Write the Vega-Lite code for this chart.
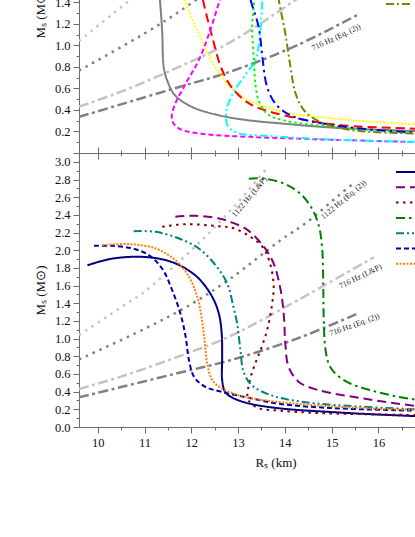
{
"$schema":"https://vega.github.io/schema/vega-lite/v6.json",
"autosize":{"type":"pad"},
"padding":{"left":34,"top":-133,"right":0,"bottom":0},
"background":"white",
"bounds":"flush",
"spacing":0,
"config":{
 "view":{"stroke":null},
 "font":"Liberation Serif",
 "axis":{"labelFont":"Liberation Serif","titleFont":"Liberation Serif","labelFontSize":12.5,"titleFontSize":13,"titleFontWeight":"normal","labelColor":"#111","titleColor":"#111","domainColor":"#6b6b6b","tickColor":"#6b6b6b","labelPadding":3,"grid":false,"labelOverlap":false,"labelFlush":false},
 "legend":{"labelFont":"Liberation Serif","labelFontSize":12}
},
"datasets":{
 "ref":[
  {"k":"1122LP","i":0,"R":9.6,"M":1.04},{"k":"1122LP","i":1,"R":10.63,"M":1.4},{"k":"1122LP","i":2,"R":11.0,"M":1.53},{"k":"1122LP","i":3,"R":12.0,"M":2.0},{"k":"1122LP","i":4,"R":12.84,"M":2.45},{"k":"1122LP","i":5,"R":13.62,"M":2.93},
  {"k":"1122E","i":0,"R":9.6,"M":0.765},{"k":"1122E","i":1,"R":11.0,"M":1.11},{"k":"1122E","i":2,"R":11.99,"M":1.387},{"k":"1122E","i":3,"R":12.84,"M":1.68},{"k":"1122E","i":4,"R":13.9,"M":2.11},{"k":"1122E","i":5,"R":14.48,"M":2.32},{"k":"1122E","i":6,"R":15.15,"M":2.62},{"k":"1122E","i":7,"R":15.5,"M":2.77},
  {"k":"716LP","i":0,"R":9.6,"M":0.43},{"k":"716LP","i":1,"R":10.5,"M":0.57},{"k":"716LP","i":2,"R":11.74,"M":0.8},{"k":"716LP","i":3,"R":12.84,"M":1.03},{"k":"716LP","i":4,"R":14.26,"M":1.43},{"k":"716LP","i":5,"R":15.9,"M":1.92},
  {"k":"716E","i":0,"R":9.6,"M":0.335},{"k":"716E","i":1,"R":10.5,"M":0.452},{"k":"716E","i":2,"R":11.74,"M":0.613},{"k":"716E","i":3,"R":12.84,"M":0.756},{"k":"716E","i":4,"R":14.26,"M":1.0},{"k":"716E","i":5,"R":15.54,"M":1.28}
 ],
 "lab":[
  {"p":"top","t":"716 Hz (Eq. (2))","R":15.1,"M":1.07},
  {"p":"b1","t":"1122 Hz (L&P)","R":13.25,"M":2.6},
  {"p":"b2","t":"1122 Hz (Eq. (2))","R":15.26,"M":2.567},
  {"p":"b3","t":"716 Hz (L&P)","R":15.62,"M":1.7},
  {"p":"b4","t":"716 Hz (Eq. (2))","R":15.49,"M":1.152}
 ],
 "top":[
  {"s":"EOS A","i":0,"R":11.3,"M":1.6},{"s":"EOS A","i":1,"R":11.33,"M":1.42},{"s":"EOS A","i":2,"R":11.36,"M":1.25},{"s":"EOS A","i":3,"R":11.38,"M":1.108},{"s":"EOS A","i":4,"R":11.41,"M":0.8},{"s":"EOS A","i":5,"R":11.48,"M":0.68},{"s":"EOS A","i":6,"R":11.65,"M":0.536},{"s":"EOS A","i":7,"R":12.02,"M":0.427},{"s":"EOS A","i":8,"R":12.59,"M":0.35},{"s":"EOS A","i":9,"R":13.2,"M":0.305},{"s":"EOS A","i":10,"R":13.98,"M":0.272},{"s":"EOS A","i":11,"R":15.05,"M":0.235},{"s":"EOS A","i":12,"R":16.79,"M":0.204},{"s":"EOS A","i":13,"R":18.0,"M":0.19},
  {"s":"EOS B","i":0,"R":11.78,"M":1.55},{"s":"EOS B","i":1,"R":11.86,"M":1.42},{"s":"EOS B","i":2,"R":12.16,"M":1.108},{"s":"EOS B","i":3,"R":12.43,"M":0.86},{"s":"EOS B","i":4,"R":12.71,"M":0.675},{"s":"EOS B","i":5,"R":12.95,"M":0.57},{"s":"EOS B","i":6,"R":13.2,"M":0.49},{"s":"EOS B","i":7,"R":13.98,"M":0.381},{"s":"EOS B","i":8,"R":15.05,"M":0.319},{"s":"EOS B","i":9,"R":16.79,"M":0.266},{"s":"EOS B","i":10,"R":18.0,"M":0.245},
  {"s":"EOS C","i":0,"R":12.2,"M":1.55},{"s":"EOS C","i":1,"R":12.25,"M":1.42},{"s":"EOS C","i":2,"R":12.43,"M":1.108},{"s":"EOS C","i":3,"R":12.65,"M":0.78},{"s":"EOS C","i":4,"R":12.88,"M":0.6},{"s":"EOS C","i":5,"R":13.2,"M":0.47},{"s":"EOS C","i":6,"R":13.4,"M":0.425},{"s":"EOS C","i":7,"R":13.98,"M":0.35},{"s":"EOS C","i":8,"R":15.05,"M":0.265},{"s":"EOS C","i":9,"R":16.79,"M":0.226},{"s":"EOS C","i":10,"R":18.0,"M":0.21},
  {"s":"EOS D","i":0,"R":12.75,"M":1.6},{"s":"EOS D","i":1,"R":12.61,"M":1.42},{"s":"EOS D","i":2,"R":12.38,"M":1.108},{"s":"EOS D","i":3,"R":12.16,"M":0.861},{"s":"EOS D","i":4,"R":11.88,"M":0.644},{"s":"EOS D","i":5,"R":11.63,"M":0.427},{"s":"EOS D","i":6,"R":11.59,"M":0.303},{"s":"EOS D","i":7,"R":11.74,"M":0.226},{"s":"EOS D","i":8,"R":12.3,"M":0.175},{"s":"EOS D","i":9,"R":13.23,"M":0.15},{"s":"EOS D","i":10,"R":14.5,"M":0.13},{"s":"EOS D","i":11,"R":16.79,"M":0.102},{"s":"EOS D","i":12,"R":18.0,"M":0.095},
  {"s":"EOS E","i":0,"R":13.55,"M":1.6},{"s":"EOS E","i":1,"R":13.52,"M":1.42},{"s":"EOS E","i":2,"R":13.47,"M":1.108},{"s":"EOS E","i":3,"R":13.37,"M":0.861},{"s":"EOS E","i":4,"R":13.18,"M":0.74},{"s":"EOS E","i":5,"R":12.9,"M":0.56},{"s":"EOS E","i":6,"R":12.75,"M":0.39},{"s":"EOS E","i":7,"R":12.78,"M":0.25},{"s":"EOS E","i":8,"R":13.0,"M":0.185},{"s":"EOS E","i":9,"R":13.6,"M":0.16},{"s":"EOS E","i":10,"R":15.05,"M":0.124},{"s":"EOS E","i":11,"R":16.79,"M":0.104},{"s":"EOS E","i":12,"R":18.0,"M":0.097},
  {"s":"EOS F","i":0,"R":13.3,"M":1.6},{"s":"EOS F","i":1,"R":13.34,"M":1.42},{"s":"EOS F","i":2,"R":13.3,"M":1.17},{"s":"EOS F","i":3,"R":13.34,"M":0.861},{"s":"EOS F","i":4,"R":13.37,"M":0.644},{"s":"EOS F","i":5,"R":13.44,"M":0.489},{"s":"EOS F","i":6,"R":13.62,"M":0.365},{"s":"EOS F","i":7,"R":13.98,"M":0.303},{"s":"EOS F","i":8,"R":15.05,"M":0.242},{"s":"EOS F","i":9,"R":16.79,"M":0.185},{"s":"EOS F","i":10,"R":18.0,"M":0.17},
  {"s":"EOS G","i":0,"R":13.2,"M":1.6},{"s":"EOS G","i":1,"R":13.27,"M":1.42},{"s":"EOS G","i":2,"R":13.44,"M":1.17},{"s":"EOS G","i":3,"R":13.52,"M":0.892},{"s":"EOS G","i":4,"R":13.62,"M":0.613},{"s":"EOS G","i":5,"R":13.8,"M":0.458},{"s":"EOS G","i":6,"R":14.12,"M":0.35},{"s":"EOS G","i":7,"R":15.05,"M":0.257},{"s":"EOS G","i":8,"R":16.79,"M":0.19},{"s":"EOS G","i":9,"R":18.0,"M":0.175},
  {"s":"EOS H","i":0,"R":13.8,"M":1.6},{"s":"EOS H","i":1,"R":13.87,"M":1.42},{"s":"EOS H","i":2,"R":14.01,"M":1.108},{"s":"EOS H","i":3,"R":14.12,"M":0.8},{"s":"EOS H","i":4,"R":14.23,"M":0.551},{"s":"EOS H","i":5,"R":14.41,"M":0.396},{"s":"EOS H","i":6,"R":14.76,"M":0.288},{"s":"EOS H","i":7,"R":15.4,"M":0.215},{"s":"EOS H","i":8,"R":16.79,"M":0.18},{"s":"EOS H","i":9,"R":18.0,"M":0.17}
 ],
 "bot":[
  {"s":"EOS I","i":0,"R":9.78,"M":1.83},{"s":"EOS I","i":1,"R":10.31,"M":1.905},{"s":"EOS I","i":2,"R":10.95,"M":1.925},{"s":"EOS I","i":3,"R":11.45,"M":1.888},{"s":"EOS I","i":4,"R":11.81,"M":1.813},{"s":"EOS I","i":5,"R":12.16,"M":1.68},{"s":"EOS I","i":6,"R":12.45,"M":1.47},{"s":"EOS I","i":7,"R":12.59,"M":1.28},{"s":"EOS I","i":8,"R":12.65,"M":1.06},{"s":"EOS I","i":9,"R":12.66,"M":0.79},{"s":"EOS I","i":10,"R":12.66,"M":0.53},{"s":"EOS I","i":11,"R":12.72,"M":0.4},{"s":"EOS I","i":12,"R":12.85,"M":0.34},{"s":"EOS I","i":13,"R":13.2,"M":0.27},{"s":"EOS I","i":14,"R":13.91,"M":0.21},{"s":"EOS I","i":15,"R":14.97,"M":0.17},{"s":"EOS I","i":16,"R":16.04,"M":0.14},{"s":"EOS I","i":17,"R":17.0,"M":0.12},{"s":"EOS I","i":18,"R":18.0,"M":0.11},
  {"s":"EOS J","i":0,"R":11.66,"M":2.38},{"s":"EOS J","i":1,"R":12.09,"M":2.39},{"s":"EOS J","i":2,"R":12.59,"M":2.36},{"s":"EOS J","i":3,"R":12.84,"M":2.32},{"s":"EOS J","i":4,"R":13.2,"M":2.23},{"s":"EOS J","i":5,"R":13.55,"M":2.04},{"s":"EOS J","i":6,"R":13.76,"M":1.85},{"s":"EOS J","i":7,"R":13.91,"M":1.55},{"s":"EOS J","i":8,"R":13.98,"M":1.25},{"s":"EOS J","i":9,"R":14.01,"M":0.94},{"s":"EOS J","i":10,"R":14.08,"M":0.68},{"s":"EOS J","i":11,"R":14.3,"M":0.51},{"s":"EOS J","i":12,"R":14.7,"M":0.42},{"s":"EOS J","i":13,"R":15.69,"M":0.322},{"s":"EOS J","i":14,"R":16.79,"M":0.24},{"s":"EOS J","i":15,"R":18.0,"M":0.2},
  {"s":"EOS K","i":0,"R":11.38,"M":2.265},{"s":"EOS K","i":1,"R":11.88,"M":2.295},{"s":"EOS K","i":2,"R":12.59,"M":2.27},{"s":"EOS K","i":3,"R":12.9,"M":2.25},{"s":"EOS K","i":4,"R":13.27,"M":2.15},{"s":"EOS K","i":5,"R":13.52,"M":2.04},{"s":"EOS K","i":6,"R":13.66,"M":1.89},{"s":"EOS K","i":7,"R":13.76,"M":1.62},{"s":"EOS K","i":8,"R":13.73,"M":1.4},{"s":"EOS K","i":9,"R":13.62,"M":1.095},{"s":"EOS K","i":10,"R":13.48,"M":0.87},{"s":"EOS K","i":11,"R":13.34,"M":0.68},{"s":"EOS K","i":12,"R":13.24,"M":0.5},{"s":"EOS K","i":13,"R":13.21,"M":0.32},{"s":"EOS K","i":14,"R":13.4,"M":0.22},{"s":"EOS K","i":15,"R":13.9,"M":0.185},{"s":"EOS K","i":16,"R":14.62,"M":0.16},{"s":"EOS K","i":17,"R":15.69,"M":0.145},{"s":"EOS K","i":18,"R":16.79,"M":0.135},{"s":"EOS K","i":19,"R":18.0,"M":0.125},
  {"s":"EOS L","i":0,"R":13.23,"M":2.81},{"s":"EOS L","i":1,"R":13.55,"M":2.81},{"s":"EOS L","i":2,"R":13.98,"M":2.755},{"s":"EOS L","i":3,"R":14.33,"M":2.64},{"s":"EOS L","i":4,"R":14.58,"M":2.47},{"s":"EOS L","i":5,"R":14.73,"M":2.27},{"s":"EOS L","i":6,"R":14.8,"M":2.0},{"s":"EOS L","i":7,"R":14.82,"M":1.62},{"s":"EOS L","i":8,"R":14.83,"M":1.25},{"s":"EOS L","i":9,"R":14.87,"M":0.87},{"s":"EOS L","i":10,"R":14.97,"M":0.68},{"s":"EOS L","i":11,"R":15.26,"M":0.53},{"s":"EOS L","i":12,"R":15.83,"M":0.416},{"s":"EOS L","i":13,"R":16.79,"M":0.31},{"s":"EOS L","i":14,"R":18.0,"M":0.26},
  {"s":"EOS M","i":0,"R":10.77,"M":2.216},{"s":"EOS M","i":1,"R":11.24,"M":2.208},{"s":"EOS M","i":2,"R":11.74,"M":2.133},{"s":"EOS M","i":3,"R":12.16,"M":2.02},{"s":"EOS M","i":4,"R":12.52,"M":1.83},{"s":"EOS M","i":5,"R":12.77,"M":1.62},{"s":"EOS M","i":6,"R":12.9,"M":1.36},{"s":"EOS M","i":7,"R":12.98,"M":1.17},{"s":"EOS M","i":8,"R":13.05,"M":0.87},{"s":"EOS M","i":9,"R":13.12,"M":0.62},{"s":"EOS M","i":10,"R":13.3,"M":0.47},{"s":"EOS M","i":11,"R":13.7,"M":0.36},{"s":"EOS M","i":12,"R":14.3,"M":0.29},{"s":"EOS M","i":13,"R":15.05,"M":0.25},{"s":"EOS M","i":14,"R":16.79,"M":0.2},{"s":"EOS M","i":15,"R":18.0,"M":0.18},
  {"s":"EOS N","i":0,"R":9.92,"M":2.05},{"s":"EOS N","i":1,"R":10.31,"M":2.05},{"s":"EOS N","i":2,"R":10.74,"M":2.02},{"s":"EOS N","i":3,"R":11.09,"M":1.945},{"s":"EOS N","i":4,"R":11.38,"M":1.79},{"s":"EOS N","i":5,"R":11.59,"M":1.55},{"s":"EOS N","i":6,"R":11.77,"M":1.28},{"s":"EOS N","i":7,"R":11.88,"M":1.02},{"s":"EOS N","i":8,"R":11.95,"M":0.76},{"s":"EOS N","i":9,"R":12.06,"M":0.567},{"s":"EOS N","i":10,"R":12.3,"M":0.454},{"s":"EOS N","i":11,"R":12.66,"M":0.397},{"s":"EOS N","i":12,"R":13.23,"M":0.33},{"s":"EOS N","i":13,"R":13.91,"M":0.26},{"s":"EOS N","i":14,"R":14.97,"M":0.215},{"s":"EOS N","i":15,"R":16.04,"M":0.195},{"s":"EOS N","i":16,"R":16.79,"M":0.185},{"s":"EOS N","i":17,"R":18.0,"M":0.17},
  {"s":"EOS O","i":0,"R":10.1,"M":2.057},{"s":"EOS O","i":1,"R":10.67,"M":2.069},{"s":"EOS O","i":2,"R":11.24,"M":2.02},{"s":"EOS O","i":3,"R":11.66,"M":1.888},{"s":"EOS O","i":4,"R":11.95,"M":1.7},{"s":"EOS O","i":5,"R":12.13,"M":1.47},{"s":"EOS O","i":6,"R":12.23,"M":1.21},{"s":"EOS O","i":7,"R":12.29,"M":0.944},{"s":"EOS O","i":8,"R":12.34,"M":0.718},{"s":"EOS O","i":9,"R":12.45,"M":0.53},{"s":"EOS O","i":10,"R":12.66,"M":0.435},{"s":"EOS O","i":11,"R":12.95,"M":0.37},{"s":"EOS O","i":12,"R":13.23,"M":0.33},{"s":"EOS O","i":13,"R":13.91,"M":0.28},{"s":"EOS O","i":14,"R":14.97,"M":0.235},{"s":"EOS O","i":15,"R":16.04,"M":0.205},{"s":"EOS O","i":16,"R":16.79,"M":0.195},{"s":"EOS O","i":17,"R":18.0,"M":0.18}
 ]
},
"resolve":{"scale":{"x":"independent","y":"independent","color":"independent","strokeDash":"independent"},"legend":{"color":"independent","strokeDash":"independent"}},
"vconcat":[
 {
  "width":393,"height":280,
  "encoding":{
   "x":{"field":"R","type":"quantitative","scale":{"domain":[9.6,18],"nice":false,"zero":false},
        "axis":{"orient":"bottom","values":[10,10.5,11,11.5,12,12.5,13,13.5,14,14.5,15,15.5,16,16.5,17,17.5,18],"labels":false,"title":null,
                "tickSize":{"condition":{"test":"datum.value % 1 == 0","value":6},"value":3}}},
   "y":{"field":"M","type":"quantitative","scale":{"domain":[0,2.6],"nice":false,"zero":false},
        "axis":{"values":[0,0.1,0.2,0.3,0.4,0.5,0.6,0.7,0.8,0.9,1,1.1,1.2,1.3,1.4,1.5,1.6,1.7,1.8,1.9,2,2.1,2.2,2.3,2.4,2.5,2.6],
                "labelExpr":"(round(datum.value*10) % 2 == 0 && datum.value > 0.05) ? format(datum.value, '.1f') : ''",
                "tickSize":{"condition":{"test":"round(datum.value*10) % 2 == 0","value":6},"value":3},
                "title":"Mₛ (M⊙)","titlePadding":7}}
  },
  "layer":[
   {"data":{"name":"ref"},"transform":[{"filter":"datum.k == '1122LP'"}],"mark":{"type":"line","color":"#c4c4c4","strokeWidth":2.5,"strokeDash":[2.5,5],"clip":true,"interpolate":"catmull-rom"},"encoding":{"order":{"field":"i"}}},
   {"data":{"name":"ref"},"transform":[{"filter":"datum.k == '1122E'"}],"mark":{"type":"line","color":"#808080","strokeWidth":2.5,"strokeDash":[2.5,5],"clip":true,"interpolate":"catmull-rom"},"encoding":{"order":{"field":"i"}}},
   {"data":{"name":"ref"},"transform":[{"filter":"datum.k == '716LP'"}],"mark":{"type":"line","color":"#c4c4c4","strokeWidth":2.5,"strokeDash":[10,3.5,3,3.5],"clip":true,"interpolate":"catmull-rom"},"encoding":{"order":{"field":"i"}}},
   {"data":{"name":"ref"},"transform":[{"filter":"datum.k == '716E'"}],"mark":{"type":"line","color":"#808080","strokeWidth":2.5,"strokeDash":[10,3.5,3,3.5],"clip":true,"interpolate":"catmull-rom"},"encoding":{"order":{"field":"i"}}},
   {"data":{"name":"top"},"mark":{"type":"line","strokeWidth":2,"clip":true,"interpolate":"catmull-rom"},
    "encoding":{
     "order":{"field":"i"},
     "color":{"field":"s","type":"nominal","scale":{"domain":["EOS A","EOS B","EOS C","EOS D","EOS E","EOS F","EOS G","EOS H"],"range":["#808080","#ffff00","#ff0000","#ff00ff","#00ffff","#00ff00","#0000ff","#808000"]},
              "legend":{"orient":"none","legendX":316,"legendY":18,"title":null,"symbolType":"M-3,0H2","symbolSize":100,"symbolStrokeWidth":2,"labelOffset":25,"rowPadding":3.3,"padding":0}},
     "strokeDash":{"field":"s","type":"nominal","scale":{"domain":["EOS A","EOS B","EOS C","EOS D","EOS E","EOS F","EOS G","EOS H"],"range":[[1,0],[2,1.5],[9,5],[5,3],[8,3,2,3,2,3],[2.5,3],[9,4,2.5,4],[8,3,2,3]]},
              "legend":{"orient":"none","legendX":316,"legendY":18,"title":null,"symbolType":"M-3,0H2","symbolSize":100,"symbolStrokeWidth":2,"labelOffset":25,"rowPadding":3.3,"padding":0}}
    }},
   {"data":{"name":"lab"},"transform":[{"filter":"datum.p == 'top'"}],"mark":{"type":"text","angle":335,"fontSize":8,"font":"Liberation Serif","color":"#222"},"encoding":{"text":{"field":"t"}}}
  ]
 },
 {
  "width":393,"height":274,
  "encoding":{
   "y":{"field":"M","type":"quantitative","scale":{"domain":[0,3.1],"nice":false,"zero":false},
        "axis":{"values":[0,0.1,0.2,0.3,0.4,0.5,0.6,0.7,0.8,0.9,1,1.1,1.2,1.3,1.4,1.5,1.6,1.7,1.8,1.9,2,2.1,2.2,2.3,2.4,2.5,2.6,2.7,2.8,2.9,3,3.1],
                "labelExpr":"round(datum.value*10) % 2 == 0 ? format(datum.value, '.1f') : ''",
                "tickSize":{"condition":{"test":"round(datum.value*10) % 2 == 0","value":6},"value":3},
                "title":"Mₛ (M⊙)","titlePadding":7}}
  },
  "resolve":{"axis":{"x":"independent"}},
  "layer":[
   {
    "encoding":{
     "x":{"field":"R","type":"quantitative","scale":{"domain":[9.6,18],"nice":false,"zero":false},
          "axis":{"orient":"bottom","values":[10,10.5,11,11.5,12,12.5,13,13.5,14,14.5,15,15.5,16,16.5,17,17.5,18],
                  "labelExpr":"datum.value % 1 == 0 ? format(datum.value, 'd') : ''","title":"Rₛ (km)","titlePadding":8,
                  "tickSize":{"condition":{"test":"datum.value % 1 == 0","value":6},"value":3}}}
    },
    "layer":[
     {"data":{"name":"ref"},"transform":[{"filter":"datum.k == '1122LP'"}],"mark":{"type":"line","color":"#c4c4c4","strokeWidth":2.5,"strokeDash":[2.5,5],"clip":true,"interpolate":"catmull-rom"},"encoding":{"order":{"field":"i"}}},
     {"data":{"name":"ref"},"transform":[{"filter":"datum.k == '1122E'"}],"mark":{"type":"line","color":"#808080","strokeWidth":2.5,"strokeDash":[2.5,5],"clip":true,"interpolate":"catmull-rom"},"encoding":{"order":{"field":"i"}}},
     {"data":{"name":"ref"},"transform":[{"filter":"datum.k == '716LP'"}],"mark":{"type":"line","color":"#c4c4c4","strokeWidth":2.5,"strokeDash":[10,3.5,3,3.5],"clip":true,"interpolate":"catmull-rom"},"encoding":{"order":{"field":"i"}}},
     {"data":{"name":"ref"},"transform":[{"filter":"datum.k == '716E'"}],"mark":{"type":"line","color":"#808080","strokeWidth":2.5,"strokeDash":[10,3.5,3,3.5],"clip":true,"interpolate":"catmull-rom"},"encoding":{"order":{"field":"i"}}},
     {"data":{"name":"bot"},"mark":{"type":"line","strokeWidth":2,"clip":true,"interpolate":"catmull-rom"},
      "encoding":{
       "order":{"field":"i"},
       "color":{"field":"s","type":"nominal","scale":{"domain":["EOS I","EOS J","EOS K","EOS L","EOS M","EOS N","EOS O"],"range":["#000080","#800080","#800000","#008000","#008080","#0000b0","#ff8000"]},
                "legend":{"orient":"none","legendX":326,"legendY":13,"title":null,"symbolType":"M-3,0H3","symbolSize":100,"symbolStrokeWidth":2,"labelOffset":25,"rowPadding":3.3,"padding":0}},
       "strokeDash":{"field":"s","type":"nominal","scale":{"domain":["EOS I","EOS J","EOS K","EOS L","EOS M","EOS N","EOS O"],"range":[[1,0],[9,5],[2.5,4.5],[9,4,2.5,4],[8,3,2,3,2,3],[5,3],[2,1.5]]},
                "legend":{"orient":"none","legendX":326,"legendY":13,"title":null,"symbolType":"M-3,0H3","symbolSize":100,"symbolStrokeWidth":2,"labelOffset":25,"rowPadding":3.3,"padding":0}}
      }},
     {"data":{"name":"lab"},"transform":[{"filter":"datum.p == 'b1'"}],"mark":{"type":"text","angle":310,"fontSize":8,"font":"Liberation Serif","color":"#222"},"encoding":{"text":{"field":"t"}}},
     {"data":{"name":"lab"},"transform":[{"filter":"datum.p == 'b2'"}],"mark":{"type":"text","angle":320,"fontSize":8,"font":"Liberation Serif","color":"#222"},"encoding":{"text":{"field":"t"}}},
     {"data":{"name":"lab"},"transform":[{"filter":"datum.p == 'b3'"}],"mark":{"type":"text","angle":334,"fontSize":8,"font":"Liberation Serif","color":"#222"},"encoding":{"text":{"field":"t"}}},
     {"data":{"name":"lab"},"transform":[{"filter":"datum.p == 'b4'"}],"mark":{"type":"text","angle":340,"fontSize":8,"font":"Liberation Serif","color":"#222"},"encoding":{"text":{"field":"t"}}}
    ]
   },
   {"data":{"name":"ref"},"transform":[{"filter":"datum.k == '716E'"}],"mark":{"type":"line","opacity":0,"clip":true},
    "encoding":{
     "order":{"field":"i"},
     "x":{"field":"R","type":"quantitative","scale":{"domain":[9.6,18],"nice":false,"zero":false},
          "axis":{"orient":"top","values":[10,10.5,11,11.5,12,12.5,13,13.5,14,14.5,15,15.5,16,16.5,17,17.5,18],"labels":false,"title":null,
                  "tickSize":{"condition":{"test":"datum.value % 1 == 0","value":6},"value":3}}}
    }}
  ]
 }
]
}
